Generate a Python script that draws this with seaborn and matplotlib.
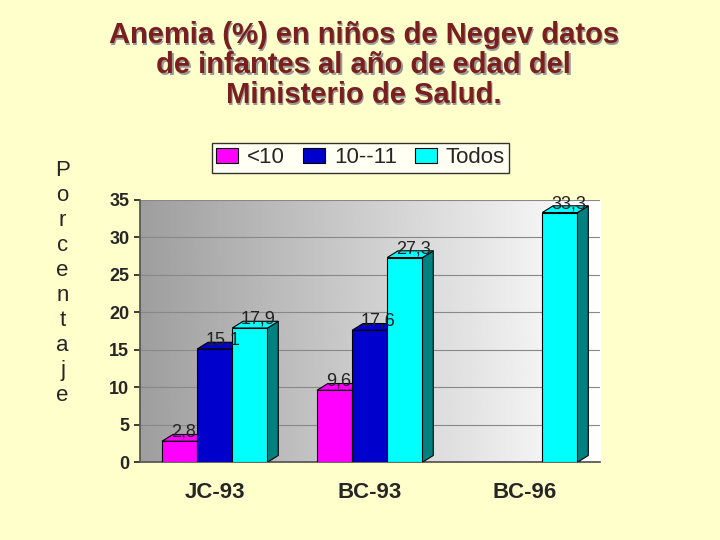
import matplotlib
matplotlib.use("Agg")
import matplotlib.pyplot as plt
import seaborn as sns
import pandas as pd
import numpy as np
from matplotlib.patches import Polygon

groups = ["JC-93", "BC-93", "BC-96"]
series = ["<10", "10--11", "Todos"]
v_lt10 = [2.8, 9.6, np.nan]
v_1011 = [15.1, 17.6, np.nan]
v_todos = [17.9, 27.3, 33.3]
colors = ["#FF00FF", "#0000CC", "#00FFFF"]
sides = ["#990099", "#000066", "#008080"]

rows = []
for s, vals in zip(series, [v_lt10, v_1011, v_todos]):
    for g, v in zip(groups, vals):
        rows.append({"grupo": g, "serie": s, "valor": v})
df = pd.DataFrame(rows)

sns.set_theme(style="white")
plt.rcParams['font.family'] = ['Liberation Sans', 'DejaVu Sans']
fig = plt.figure(figsize=(7.2, 5.4), dpi=100, facecolor="#FFFFCC")
ax = fig.add_axes([0.194, 0.144, 0.639, 0.486])
ax.set_facecolor("none")
grad = np.linspace(0.62, 1.0, 256).reshape(1, -1)
ax.imshow(grad, cmap="gray", vmin=0, vmax=1, aspect="auto",
          extent=[-0.484, 2.484, 0, 35], zorder=0)

sns.barplot(data=df, x="grupo", y="valor", hue="serie", hue_order=series,
            palette=colors, width=0.68, ax=ax, edgecolor="black", linewidth=0.8,
            saturation=1, zorder=3)
ax.set_xlim(-0.484, 2.484)
ax.set_ylim(0, 35)
ax.set_yticks(range(0, 36, 5))
ax.yaxis.grid(True, color="#888888", lw=0.8, zorder=1)

dx, dy = 0.07, 0.9
for p in ax.patches:
    h = p.get_height()
    if not np.isfinite(h) or h == 0:
        continue
    x0, w = p.get_x(), p.get_width()
    fc = p.get_facecolor()
    idx = [tuple(np.round(matplotlib.colors.to_rgba(c), 3)) for c in colors].index(tuple(np.round(fc, 3)))
    side = Polygon([[x0 + w, 0], [x0 + w + dx, dy], [x0 + w + dx, h + dy], [x0 + w, h]],
                   closed=True, fc=sides[idx], ec="black", lw=0.8, zorder=2.9)
    top = Polygon([[x0, h], [x0 + dx, h + dy], [x0 + w + dx, h + dy], [x0 + w, h]],
                  closed=True, fc=fc, ec="black", lw=0.8, zorder=2.9)
    ax.add_patch(side); ax.add_patch(top)
    ax.text(x0 + w * 0.25, h + 0.6, f"{h:.1f}".replace(".", ","), fontsize=13,
            color="#222222", zorder=5)

ax.set_xlabel(""); ax.set_ylabel("")
ax.tick_params(axis="x", labelsize=16, pad=8)
ax.tick_params(axis="y", labelsize=13, left=True, length=4)
for l in ax.get_xticklabels() + ax.get_yticklabels():
    l.set_fontweight("bold")
for s in ["top", "right"]:
    ax.spines[s].set_visible(False)
ax.spines["left"].set_color("#555555")
ax.spines["bottom"].set_color("#555555")

ax.legend(loc="lower center", bbox_to_anchor=(0.48, 1.06), ncol=3, frameon=True,
          fontsize=16, edgecolor="black", fancybox=False, handlelength=1.0,
          columnspacing=0.8, handletextpad=0.4, borderpad=0.2).get_frame().set_linewidth(1)

title = "Anemia (%) en niños de Negev datos\nde infantes al año de edad del\nMinisterio de Salud."
fig.text(0.507, 0.876, title, ha="center", va="center", fontsize=21, fontweight="bold",
         color="#999999", linespacing=1.1)
fig.text(0.505, 0.880, title, ha="center", va="center", fontsize=21, fontweight="bold",
         color="#7A1E1E", linespacing=1.1)
fig.text(0.087, 0.476, "\n".join("Porcentaje"), ha="center", va="center", fontsize=16,
         linespacing=1.25)

fig.savefig("out.png", dpi=100, facecolor=fig.get_facecolor())
